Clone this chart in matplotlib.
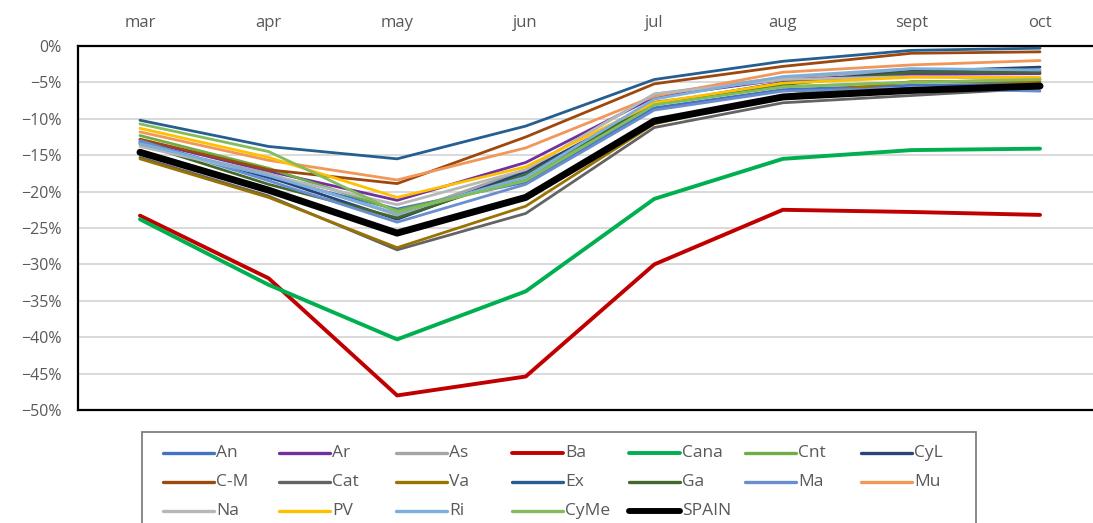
import matplotlib
matplotlib.use("Agg")
import matplotlib.pyplot as plt
from matplotlib.lines import Line2D
from matplotlib.patches import Rectangle
from matplotlib.ticker import FuncFormatter

plt.rcParams['font.family'] = ['Open Sans', 'DejaVu Sans']

months = ['mar', 'apr', 'may', 'jun', 'jul', 'aug', 'sept', 'oct']

regions = ['An', 'Ar', 'As', 'Ba', 'Cana', 'Cnt', 'CyL',
           'C-M', 'Cat', 'Va', 'Ex', 'Ga', 'Ma', 'Mu',
           'Na', 'PV', 'Ri', 'CyMe', 'SPAIN']

# monthly change, %
An = [-13.1, -18.1, -22.4, -18.7, -8.5, -6.0, -5.4, -5.2]
Ar = [-12.9, -17.2, -21.2, -16.0, -7.0, -4.6, -3.9, -3.8]
As = [-13.6, -17.5, -23.2, -17.0, -6.6, -4.3, -3.4, -3.3]
Ba = [-23.3, -31.9, -48.0, -45.4, -30.0, -22.5, -22.8, -23.2]
Cana = [-23.8, -32.8, -40.3, -33.7, -21.0, -15.5, -14.3, -14.1]
Cnt = [-12.3, -16.8, -22.6, -18.4, -7.7, -5.6, -5.0, -4.6]
CyL = [-13.3, -18.0, -23.8, -17.3, -8.0, -5.0, -3.5, -2.9]
CM = [-12.8, -17.0, -18.9, -12.5, -5.2, -2.8, -1.0, -0.8]
Cat = [-15.3, -20.6, -28.0, -23.0, -11.2, -7.8, -6.8, -5.8]
Va = [-15.5, -20.8, -27.7, -22.0, -10.7, -6.8, -4.9, -4.9]
Ex = [-10.2, -13.8, -15.5, -11.0, -4.6, -2.1, -0.6, -0.3]
Ga = [-13.4, -19.0, -23.6, -17.7, -8.0, -5.3, -3.6, -3.6]
Ma = [-13.0, -18.5, -24.2, -19.0, -8.8, -6.2, -5.8, -6.2]
Mu = [-11.8, -15.7, -18.4, -14.0, -6.9, -3.6, -2.6, -2.0]
Na = [-13.8, -17.7, -21.8, -17.0, -6.6, -4.6, -4.2, -4.5]
PV = [-11.3, -15.3, -20.8, -16.6, -7.8, -5.1, -4.3, -4.3]
Ri = [-13.4, -17.8, -23.0, -18.0, -7.3, -4.2, -3.1, -3.3]
CyMe = [-10.7, -14.5, -22.8, -18.5, -8.1, -5.6, -5.0, -4.6]
SPAIN = [-14.6, -19.8, -25.7, -20.8, -10.3, -7.0, -6.1, -5.5]

series = [An, Ar, As, Ba, Cana, Cnt, CyL, CM, Cat, Va, Ex, Ga, Ma, Mu,
          Na, PV, Ri, CyMe, SPAIN]

colors = ['#4472C4', '#7030A0', '#A5A5A5', '#C00000', '#00B050', '#70AD47',
          '#264478', '#9E480E', '#636363', '#997300', '#255E91', '#43682B',
          '#698ED0', '#F1975A', '#B7B7B7', '#FFC000', '#7CAFDD', '#84BC5C',
          '#000000']
widths = {'Ba': 2.8, 'Cana': 2.8, 'SPAIN': 5.0}
base_width = 2.0

W, H = 1093, 523
fig = plt.figure(figsize=(W / 100, H / 100), dpi=100)


def fx(px):
    return px / W


def fy(py):
    return 1 - py / H


ax = fig.add_axes([fx(78), fy(410), fx(1102) - fx(78), fy(46) - fy(410)])

x = list(range(len(months)))
for name, vals, col in zip(regions, series, colors):
    ax.plot(x, vals, color=col, lw=widths.get(name, base_width),
            solid_capstyle='round', solid_joinstyle='round',
            zorder=5 if name == 'SPAIN' else 3)

ax.set_xlim(-0.482, 7.482)
ax.set_ylim(-50, 0)
ax.set_yticks(range(-50, 1, 5))
ax.yaxis.set_major_formatter(
    FuncFormatter(lambda v, _: f"{int(v)}%".replace('-', '\u2212')))
ax.set_xticks(x)
ax.set_xticklabels(months)
ax.xaxis.tick_top()
ax.tick_params(axis='x', length=0, pad=11, labelsize=12, labelcolor='#595959')
ax.tick_params(axis='y', length=0, pad=12, labelsize=11.5, labelcolor='#595959')
ax.grid(axis='y', color='#D9D9D9', lw=1.4, zorder=0)
ax.set_axisbelow(True)
for side in ['left', 'top', 'bottom']:
    ax.spines[side].set_color('black')
    ax.spines[side].set_linewidth(1.6)
ax.spines['right'].set_visible(False)

# legend: 7 columns, uniform column width
fig.add_artist(Rectangle((fx(142), fy(540)), fx(976) - fx(142), fy(432) - fy(540),
                         transform=fig.transFigure, fill=False,
                         edgecolor='#7F7F7F', lw=1.3))
col_w, row_h = 116.4, 29.0
x0, y0 = 163, 453
for k, (name, col) in enumerate(zip(regions, colors)):
    r, c = divmod(k, 7)
    lx = x0 + c * col_w
    ly = y0 + r * row_h
    lw = widths.get(name, base_width) * (0.85 if name == 'SPAIN' else 1.0)
    fig.add_artist(Line2D([fx(lx), fx(lx + 51)], [fy(ly), fy(ly)],
                          transform=fig.transFigure, color=col, lw=max(lw, 2.4),
                          solid_capstyle='round'))
    fig.text(fx(lx + 53), fy(ly), name, ha='left', va='center',
             fontsize=12.5, color='#595959')

fig.savefig('out.png', dpi=100)
